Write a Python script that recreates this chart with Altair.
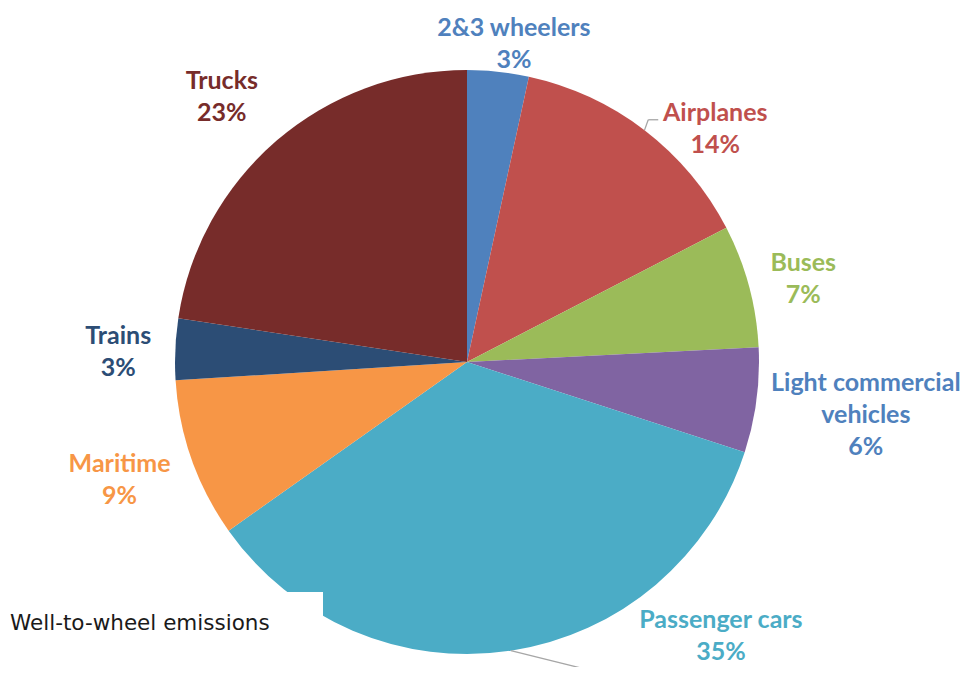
import altair as alt
import pandas as pd

# ---- data ----
categories = ["2&3 wheelers", "Airplanes", "Buses", "Light commercial vehicles",
              "Passenger cars", "Maritime", "Trains", "Trucks"]
shares = [3.4, 14.0, 6.8, 5.8, 35.2, 8.8, 3.4, 22.6]
label_names = ["2&3 wheelers", "Airplanes", "Buses", "Light commercial\nvehicles",
               "Passenger cars", "Maritime", "Trains", "Trucks"]

# ---- styles ----
slice_colors = ["#4F81BD", "#C0504D", "#9BBB59", "#8064A2",
                "#4BACC6", "#F79646", "#2C4D75", "#772C2A"]
label_colors = ["#4F81BD", "#C0504D", "#9BBB59", "#4F81BD",
                "#4BACC6", "#F79646", "#2C4D75", "#772C2A"]

# ---- layout (label placement, like manual label positions) ----
label_radius = [324, 342, 347, 402, 372, 366, 349, 363]
label_nudge_deg = [2.2, 9.1, 0.8, -0.36, -34.4, 1.1, -0.45, -1.8]
leader_dx = [0, -67, 0, 0, -100, 0, 0, 0]
leader_dy = [0, -7, 0, 0, 44, 0, 0, 0]
leader_tick = [0, 10, 0, 0, 0, 0, 0, 0]
has_leader = [False, True, False, False, True, False, False, False]

W, H = 954, 659
CX, CY = 459, 354
R = 292
LH = 32

texts = [f"{n}\n{round(v)}%" for n, v in zip(label_names, shares)]
df = pd.DataFrame({
    "idx": list(range(len(categories))),
    "cat": categories,
    "share": shares,
    "text": texts,
    "nlines": [t.count("\n") + 1 for t in texts],
    "lcolor": label_colors,
    "lr": label_radius,
    "nudge": label_nudge_deg,
    "ldx": leader_dx,
    "ldy": leader_dy,
    "tick": leader_tick,
    "lead": has_leader,
})

base = alt.Chart(df)

shadow_df = pd.DataFrame({"v": [1]})
shadow1 = alt.Chart(shadow_df).mark_arc(outerRadius=R + 4, color="#000000", opacity=0.04).encode(
    theta=alt.Theta("v:Q"), x=alt.value(CX + 2), y=alt.value(CY + 4))
shadow2 = alt.Chart(shadow_df).mark_arc(outerRadius=R + 1.5, color="#000000", opacity=0.08).encode(
    theta=alt.Theta("v:Q"), x=alt.value(CX + 1), y=alt.value(CY + 2))

pie = base.mark_arc(outerRadius=R).encode(
    theta=alt.Theta("share:Q", stack=True),
    color=alt.Color("cat:N", scale=alt.Scale(domain=categories, range=slice_colors), legend=None),
    order=alt.Order("idx:Q"),
    x=alt.value(CX),
    y=alt.value(CY),
)

geo = (
    base.transform_window(cum="sum(share)", sort=[alt.SortField("idx")], frame=[None, 0])
    .transform_joinaggregate(total="sum(share)")
    .transform_calculate(mid="2*PI*(datum.cum - datum.share/2)/datum.total")
    .transform_calculate(ang="datum.mid + datum.nudge*PI/180")
    .transform_calculate(
        lx=f"{CX} + datum.lr*sin(datum.ang)",
        ly=f"{CY} - datum.lr*cos(datum.ang)",
        ex=f"{CX} + {R}*sin(datum.mid)",
        ey=f"{CY} - {R}*cos(datum.mid)",
    )
    .transform_calculate(
        ty=f"datum.ly - (datum.nlines - 1)*{LH}/2 + 2.5",
        bx="datum.lx + datum.ldx",
        by="datum.ly + datum.ldy",
        tx="datum.lx + datum.ldx + datum.tick",
    )
)

leaders = geo.transform_filter("datum.lead").mark_rule(color="#A6A6A6", strokeWidth=1.3).encode(
    x=alt.X("ex:Q", scale=None), y=alt.Y("ey:Q", scale=None),
    x2="bx:Q", y2="by:Q")
ticks = geo.transform_filter("datum.lead && datum.tick > 0").mark_rule(color="#A6A6A6", strokeWidth=1.3).encode(
    x=alt.X("bx:Q", scale=None), y=alt.Y("by:Q", scale=None),
    x2="tx:Q", y2="by:Q")

labels = geo.mark_text(
    font="Lato", fontWeight="bold", fontSize=25, lineHeight=LH,
    align="center", baseline="middle", lineBreak="\n",
).encode(
    x=alt.X("lx:Q", scale=None),
    y=alt.Y("ty:Q", scale=None),
    text="text:N",
    color=alt.Color("lcolor:N", scale=None),
)

note_df = pd.DataFrame({"note": ["Well-to-wheel emissions"]})
note_box = alt.Chart(note_df).mark_rect(color="white").encode(
    x=alt.value(-8), x2=alt.value(315), y=alt.value(584), y2=alt.value(650))
note_text = alt.Chart(note_df).mark_text(
    font="DejaVu Sans", fontSize=21.5, color="#1a1a1a", align="left", baseline="middle"
).encode(text="note:N", x=alt.value(2), y=alt.value(616))

chart = alt.layer(shadow1, shadow2, pie, leaders, ticks, labels, note_box, note_text).properties(
    width=W, height=H, padding=0, autosize=alt.AutoSizeParams(type="none"), background="white"
).configure_view(stroke=None)

chart.save("out.html", embed_options={"renderer": "svg", "actions": False})
